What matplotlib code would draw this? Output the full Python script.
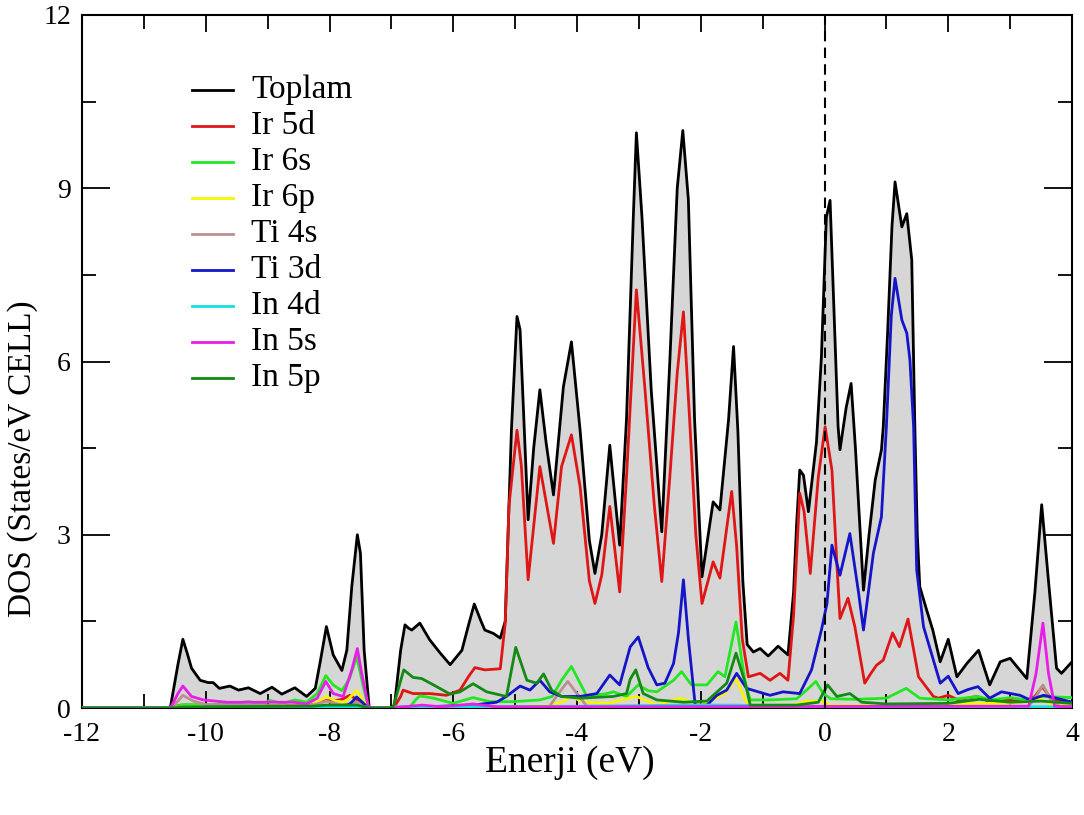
import matplotlib
matplotlib.use("Agg")
import matplotlib.pyplot as plt
from matplotlib.ticker import MultipleLocator
from matplotlib.lines import Line2D

plt.rcParams['font.family'] = ['Liberation Serif', 'DejaVu Serif']
plt.rcParams['axes.unicode_minus'] = False

# ---------------- data ----------------
tot_x = [-12, -10.62, -10.57, -10.45, -10.37, -10.30, -10.23, -10.09, -9.96, -9.88, -9.78,
         -9.61, -9.47, -9.31, -9.12, -8.93, -8.77, -8.56, -8.37, -8.23, -8.15, -8.05, -7.94,
         -7.80, -7.72, -7.64, -7.55, -7.50, -7.44, -7.36, -7.30, -7.00, -6.95, -6.85, -6.78,
         -6.72, -6.67, -6.54, -6.38, -6.21, -6.05, -5.86, -5.75, -5.66, -5.55, -5.49, -5.35,
         -5.24, -5.16, -5.06, -4.97, -4.92, -4.79, -4.70, -4.60, -4.50, -4.38, -4.22, -4.09,
         -3.95, -3.80, -3.71, -3.60, -3.47, -3.31, -3.20, -3.09, -3.04, -2.95, -2.80, -2.63,
         -2.50, -2.38, -2.29, -2.20, -2.10, -1.98, -1.80, -1.69, -1.55, -1.47, -1.40, -1.32,
         -1.25, -1.15, -1.04, -0.91, -0.75, -0.59, -0.50, -0.45, -0.40, -0.34, -0.26, -0.13,
         -0.05, 0.03, 0.09, 0.15, 0.22, 0.25, 0.35, 0.43, 0.50, 0.63, 0.72, 0.82, 0.92, 0.95,
         1.02, 1.09, 1.14, 1.25, 1.33, 1.41, 1.46, 1.50, 1.54, 1.65, 1.75, 1.87, 2.00, 2.14,
         2.30, 2.49, 2.67, 2.84, 3.00, 3.27, 3.40, 3.51, 3.62, 3.75, 3.83, 4.00]
tot_y = [0, 0, 0.02, 0.75, 1.19, 0.95, 0.69, 0.48, 0.44, 0.44, 0.34,
         0.38, 0.31, 0.35, 0.25, 0.36, 0.24, 0.35, 0.20, 0.34, 0.80, 1.41, 0.92,
         0.65, 1.00, 2.10, 3.00, 2.68, 1.00, 0.02, 0, 0, 0.05, 1.00, 1.44,
         1.38, 1.35, 1.47, 1.18, 0.95, 0.75, 1.00, 1.45, 1.80, 1.50, 1.35, 1.29,
         1.21, 1.50, 4.81, 6.78, 6.55, 3.26, 4.50, 5.51, 4.60, 3.69, 5.56, 6.34,
         4.81, 2.90, 2.33, 3.00, 4.55, 2.82, 5.00, 8.50, 9.96, 8.50, 5.50, 3.05,
         6.00, 9.00, 10.00, 8.80, 5.00, 2.27, 3.57, 3.43, 5.00, 6.26, 4.80, 2.20,
         1.10, 0.97, 1.03, 0.90, 1.07, 0.92, 2.00, 3.20, 4.12, 4.03, 3.40, 4.60,
         6.08, 8.50, 8.79, 7.00, 4.87, 4.47, 5.20, 5.62, 4.50, 2.04, 3.00, 3.95, 4.47, 4.87,
         6.50, 8.33, 9.11, 8.33, 8.56, 7.76, 4.87, 3.00, 2.10, 1.70, 1.35, 0.80, 1.19, 0.54,
         0.77, 1.00, 0.40, 0.80, 0.86, 0.51, 2.00, 3.52, 2.20, 0.69, 0.60, 0.80]

ir5d_x = [-12, -10.62, -10.40, -9.00, -8.30, -8.05, -7.94, -7.80, -7.67, -7.56, -7.44, -7.36,
          -7.00, -6.95, -6.85, -6.81, -6.65, -6.38, -6.11, -5.89, -5.75, -5.65, -5.49, -5.24,
          -5.16, -5.10, -4.97, -4.90, -4.79, -4.60, -4.38, -4.25, -4.09, -3.95, -3.80, -3.71,
          -3.60, -3.47, -3.31, -3.20, -3.04, -2.90, -2.75, -2.63, -2.50, -2.38, -2.28, -2.18,
          -2.08, -1.98, -1.80, -1.69, -1.50, -1.42, -1.33, -1.23, -1.04, -0.88, -0.72, -0.59,
          -0.50, -0.40, -0.33, -0.23, -0.10, 0.01, 0.12, 0.20, 0.25, 0.38, 0.49, 0.65, 0.75,
          0.84, 0.95, 1.10, 1.21, 1.35, 1.52, 1.76, 1.84, 2.00, 2.16, 2.46, 2.67, 2.94, 3.21,
          3.40, 3.52, 3.65, 3.75, 4.00]
ir5d_y = [0, 0, 0.05, 0.04, 0.05, 0.13, 0.12, 0.15, 0.22, 0.15, 0.08, 0,
          0, 0.02, 0.20, 0.31, 0.25, 0.25, 0.22, 0.31, 0.55, 0.70, 0.66, 0.68,
          1.47, 3.50, 4.81, 4.20, 2.22, 4.18, 2.85, 4.18, 4.73, 3.83, 2.20, 1.81,
          2.30, 3.49, 2.01, 4.00, 7.24, 5.50, 3.50, 2.19, 4.00, 5.80, 6.86, 5.00,
          3.00, 1.81, 2.53, 2.25, 3.75, 2.80, 1.20, 0.54, 0.60, 0.48, 0.60, 0.48,
          1.60, 3.72, 3.40, 2.33, 4.00, 4.87, 4.12, 2.50, 1.55, 1.90, 1.41, 0.43, 0.60,
          0.74, 0.83, 1.30, 1.06, 1.54, 0.54, 0.20, 0.17, 0.22, 0.14, 0.20, 0.11, 0.14, 0.11,
          0.20, 0.37, 0.18, 0.14, 0.08]

ir6s_x = [-12, -10.57, -10.45, -10.33, -10.00, -9.60, -9.30, -9.10, -8.96, -8.75, -8.56, -8.37,
          -8.20, -8.06, -7.94, -7.80, -7.68, -7.56, -7.45, -7.37, -7.00, -6.70, -6.60, -6.54,
          -6.32, -6.00, -5.68, -5.41, -5.03, -4.60, -4.40, -4.25, -4.09, -3.95, -3.84, -3.52,
          -3.41, -3.20, -3.01, -2.85, -2.71, -2.44, -2.31, -2.15, -1.90, -1.72, -1.61, -1.43,
          -1.28, -1.20, -0.88, -0.45, -0.29, -0.14, -0.02, 0.10, 0.50, 1.00, 1.32, 1.54, 2.00,
          2.48, 2.70, 3.00, 3.27, 3.50, 4.00]
ir6s_y = [0, 0, 0.04, 0.06, 0.05, 0.08, 0.11, 0.07, 0.13, 0.08, 0.14, 0.10,
          0.25, 0.56, 0.40, 0.30, 0.50, 0.89, 0.35, 0, 0, 0.02, 0.15, 0.21,
          0.17, 0.08, 0.18, 0.11, 0.11, 0.14, 0.20, 0.48, 0.72, 0.43, 0.20, 0.25,
          0.28, 0.20, 0.40, 0.30, 0.28, 0.48, 0.63, 0.40, 0.40, 0.63, 0.54, 1.49,
          0.43, 0.14, 0.14, 0.16, 0.31, 0.46, 0.25, 0.16, 0.15, 0.17, 0.34, 0.17, 0.14,
          0.20, 0.14, 0.18, 0.14, 0.20, 0.18]

ir6p_x = [-12, -10.57, -10.40, -8.30, -8.20, -8.05, -7.90, -7.75, -7.56, -7.44, -7.36, -7.00,
          -6.90, -5.00, -4.50, -4.25, -4.09, -3.90, -3.50, -3.04, -2.71, -2.33, -2.00, -1.77,
          -1.61, -1.43, -1.28, -1.21, -0.50, -0.29, -0.05, 0.10, 1.00, 1.30, 2.50, 3.00, 3.50,
          3.70, 4.00]
ir6p_y = [0, 0, 0.03, 0.03, 0.10, 0.20, 0.12, 0.10, 0.30, 0.10, 0, 0,
          0.02, 0.03, 0.04, 0.10, 0.20, 0.10, 0.08, 0.20, 0.05, 0.17, 0.05, 0.17,
          0.25, 0.51, 0.14, 0.05, 0.05, 0.12, 0.12, 0.05, 0.04, 0.05, 0.08, 0.08, 0.15,
          0.05, 0.04]

ti4s_x = [-12, -10.57, -10.45, -10.37, -10.20, -10.00, -9.00, -8.30, -8.05, -7.80, -7.56,
          -7.36, -7.00, -6.90, -4.45, -4.30, -4.15, -4.00, -3.84, 3.30, 3.42, 3.53, 3.65,
          3.80, 4.00]
ti4s_y = [0, 0, 0.12, 0.22, 0.12, 0.06, 0.04, 0.04, 0.12, 0.05, 0.10,
          0, 0, 0.02, 0.02, 0.25, 0.46, 0.25, 0.03, 0.03, 0.20, 0.40, 0.15,
          0.03, 0.03]

ti3d_x = [-12, -10.57, -8.50, -7.75, -7.67, -7.56, -7.44, -7.36, -7.00, -6.90, -6.21, -5.68,
          -5.30, -5.14, -4.92, -4.76, -4.60, -4.44, -4.25, -3.95, -3.68, -3.47, -3.31, -3.14,
          -3.01, -2.85, -2.71, -2.58, -2.44, -2.36, -2.28, -2.20, -2.09, -1.90, -1.74, -1.58,
          -1.42, -1.26, -0.88, -0.67, -0.40, -0.21, -0.05, 0.04, 0.12, 0.25, 0.41, 0.55, 0.63,
          0.79, 0.92, 1.00, 1.08, 1.14, 1.25, 1.33, 1.38, 1.44, 1.49, 1.60, 1.87, 2.00, 2.16,
          2.32, 2.48, 2.67, 2.86, 3.16, 3.32, 3.54, 3.75, 4.00]
ti3d_y = [0, 0, 0.01, 0.03, 0.07, 0.19, 0.07, 0, 0, 0.01, 0.03, 0.05,
          0.10, 0.20, 0.38, 0.31, 0.48, 0.28, 0.20, 0.20, 0.25, 0.57, 0.40, 1.06,
          1.23, 0.70, 0.40, 0.43, 0.77, 1.30, 2.22, 1.20, 0.05, 0.05, 0.22, 0.31,
          0.60, 0.34, 0.22, 0.28, 0.25, 0.66, 1.35, 1.81, 2.82, 2.30, 3.02, 2.00, 1.35,
          2.68, 3.31, 4.87, 6.80, 7.44, 6.72, 6.49, 6.03, 4.87, 2.39, 1.41, 0.43, 0.55, 0.25,
          0.32, 0.37, 0.17, 0.28, 0.22, 0.14, 0.22, 0.17, 0.10]

in4d_x = [-12, -10.57, -10.40, -7.40, -7.36, -7.00, -6.90, -4.00, -3.00, -2.30, -1.45, 0.00, 4.00]
in4d_y = [0, 0, 0.02, 0.02, 0, 0, 0.02, 0.03, 0.04, 0.05, 0.05, 0.02, 0.02]

in5s_x = [-12, -10.57, -10.45, -10.37, -10.23, -10.04, -9.66, -9.30, -8.96, -8.59, -8.37, -8.20,
          -8.06, -7.94, -7.78, -7.64, -7.55, -7.48, -7.37, -7.30, -7.00, -6.90, -6.50, -6.20,
          -5.68, -5.30, 3.30, 3.42, 3.53, 3.62, 3.72, 4.00]
in5s_y = [0, 0, 0.25, 0.38, 0.20, 0.14, 0.10, 0.10, 0.10, 0.10, 0.07, 0.17,
          0.46, 0.25, 0.20, 0.66, 1.03, 0.60, 0.02, 0, 0, 0.01, 0.05, 0.02,
          0.07, 0.02, 0.03, 0.60, 1.47, 0.60, 0.03, 0.02]

in5p_x = [-12, -10.57, -10.40, -8.30, -8.05, -7.56, -7.36, -7.00, -6.97, -6.80, -6.65, -6.51,
          -6.32, -6.05, -5.89, -5.68, -5.46, -5.14, -4.99, -4.81, -4.65, -4.54, -4.41, -4.25,
          -3.95, -3.41, -3.20, -3.14, -3.05, -2.93, -2.71, -2.28, -1.90, -1.58, -1.43, -1.28,
          -1.20, -0.45, -0.10, 0.05, 0.20, 0.41, 0.60, 1.00, 2.00, 2.50, 3.00, 3.50, 4.00]
in5p_y = [0, 0, 0.02, 0.03, 0.05, 0.05, 0, 0, 0.02, 0.66, 0.53, 0.51,
          0.40, 0.24, 0.28, 0.42, 0.28, 0.20, 1.05, 0.48, 0.43, 0.59, 0.31, 0.20,
          0.17, 0.20, 0.25, 0.50, 0.66, 0.25, 0.14, 0.10, 0.12, 0.43, 0.95, 0.43,
          0.05, 0.05, 0.10, 0.40, 0.20, 0.25, 0.10, 0.07, 0.08, 0.15, 0.10, 0.12, 0.08]

labels = ["Toplam", "Ir 5d", "Ir 6s", "Ir 6p", "Ti 4s", "Ti 3d", "In 4d", "In 5s", "In 5p"]
colors = ["#000000", "#e01515", "#22e822", "#f5f500", "#bc8f8f", "#1414c8", "#10e0e0",
          "#e81ee8", "#138a13"]
xticks = [-12, -10, -8, -6, -4, -2, 0, 2, 4]
yticks = [0, 3, 6, 9, 12]

# ---------------- figure ----------------
W, H = 1084, 815
fig = plt.figure(figsize=(W / 100, H / 100), dpi=100)
ax = fig.add_axes([82 / W, 107 / H, 990 / W, 693 / H])

ax.fill_between(tot_x, 0, tot_y, color="#d6d6d6", lw=0, zorder=1)
series = [(tot_x, tot_y), (ir5d_x, ir5d_y), (ir6s_x, ir6s_y), (ir6p_x, ir6p_y),
          (ti4s_x, ti4s_y), (ti3d_x, ti3d_y), (in4d_x, in4d_y), (in5s_x, in5s_y),
          (in5p_x, in5p_y)]
for i, ((xs, ys), lab, col) in enumerate(zip(series, labels, colors)):
    ax.plot(xs, ys, color=col, lw=2.0, label=lab, zorder=3 + i,
            solid_joinstyle="round")

ax.axvline(0, color="black", lw=1.5, ls=(0, (5, 3)), zorder=20)

ax.set_xlim(-12, 4)
ax.set_ylim(0, 12)
ax.set_xticks(xticks)
ax.set_yticks(yticks)
ax.xaxis.set_minor_locator(MultipleLocator(1))
ax.yaxis.set_minor_locator(MultipleLocator(1.5))
ax.tick_params(which="both", direction="in", top=True, right=True, width=1.3,
               labelsize=20)
ax.tick_params(axis="y", which="major", length=20, pad=8)
ax.tick_params(axis="y", which="minor", length=10)
ax.tick_params(axis="x", which="major", length=12, pad=10)
ax.tick_params(axis="x", which="minor", length=10)
for s in ax.spines.values():
    s.set_linewidth(1.5)

ax.set_xlabel("Enerji (eV)", fontsize=27)
ax.xaxis.set_label_coords(0.493, -0.079)
ax.xaxis.label.set_verticalalignment("center")
ax.set_ylabel("DOS (States/eV CELL)", fontsize=24)
ax.yaxis.set_label_coords(-0.060, 0.36)
ax.yaxis.label.set_verticalalignment("center")

# legend drawn as a manual key (line sample + label), as in the reference
to_ax = lambda px, py: ((px - 82) / 990, (708 - py) / 693)
for i, (lab, col) in enumerate(zip(labels, colors)):
    py = 90 + i * 36.0
    x0, y0 = to_ax(192, py)
    x1, _ = to_ax(233, py)
    ax.add_line(Line2D([x0, x1], [y0, y0], transform=ax.transAxes, color=col,
                       lw=2.0, zorder=30))
    tx, ty = to_ax(251, py)
    ax.text(tx, ty, lab, transform=ax.transAxes, fontsize=24, va="center",
            ha="left", zorder=30)

fig.savefig("out.png", dpi=100)
